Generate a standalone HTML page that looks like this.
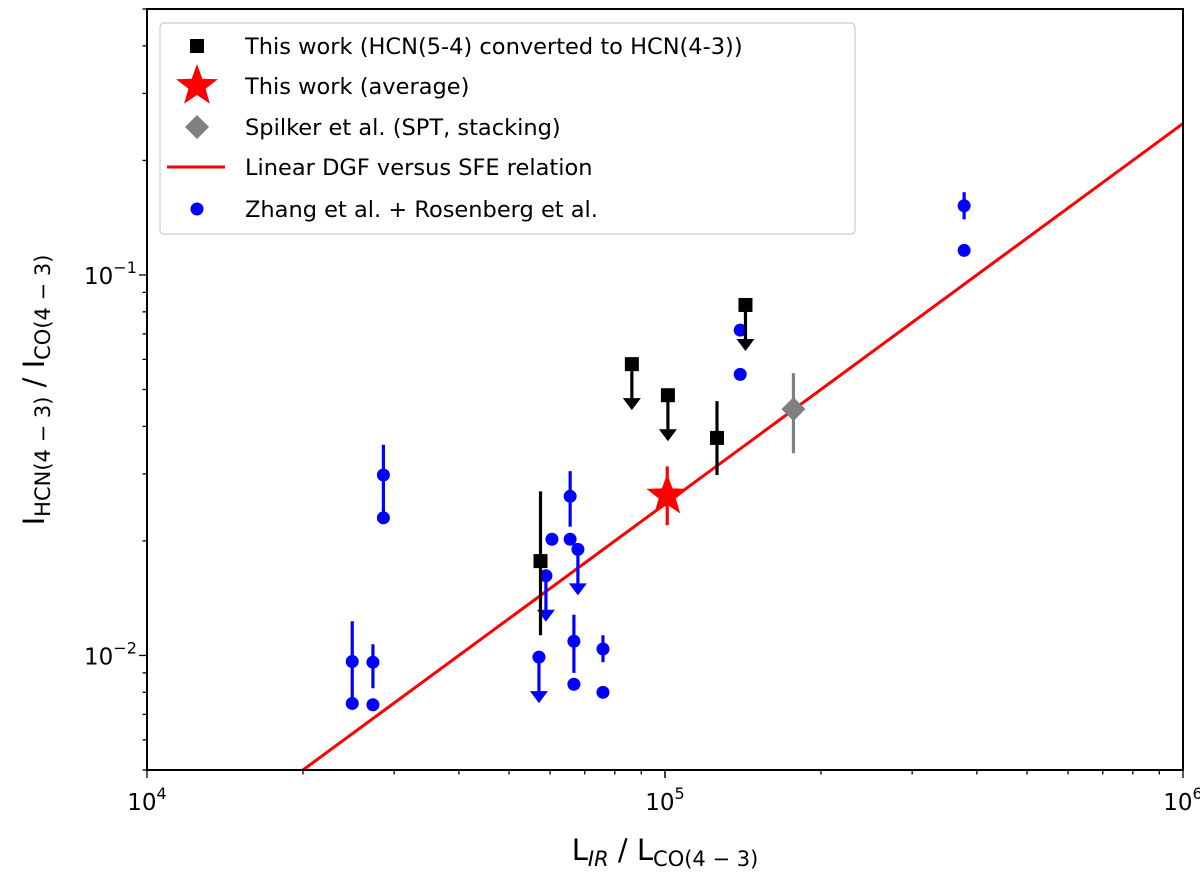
<!DOCTYPE html>
<html><head><meta charset="utf-8"><style>
html,body{margin:0;padding:0;background:#fff;}
svg{display:block;font-family:"DejaVu Sans","Liberation Sans",sans-serif;}
</style></head><body>
<svg id="chart" width="1200" height="880" viewBox="0 0 1200 880" xmlns="http://www.w3.org/2000/svg"></svg>
<script>
// ---- data ----
const blueX = [24900, 24900, 27300, 27300, 28600, 28600, 57100, 58900, 60500, 65600, 65600, 67900, 66700, 66700, 75900, 75900, 139700, 139700, 378000, 378000];
const blueY = [0.00964, 0.00748, 0.00960, 0.00742, 0.0298, 0.0230, 0.0099, 0.0162, 0.0202, 0.0262, 0.0202, 0.0190, 0.0109, 0.0084, 0.0104, 0.0080, 0.0716, 0.0548, 0.152, 0.116];
const blueErrLo = [0.00748, null, 0.0082, null, 0.0235, null, null, null, null, 0.0218, null, null, 0.0090, null, 0.0096, null, null, null, 0.140, null];
const blueErrHi = [0.0123, null, 0.0107, null, 0.0358, null, null, null, null, 0.0305, null, null, 0.0128, null, 0.0113, null, null, null, 0.165, null];
const blueUpper = [false, false, false, false, false, false, true, true, false, false, false, true, false, false, false, false, false, false, false, false];
const blackX = [57500, 86300, 101300, 126000, 143000];
const blackY = [0.0177, 0.0583, 0.0483, 0.0373, 0.0834];
const blackErrLo = [0.0113, null, null, 0.0298, null];
const blackErrHi = [0.0270, null, null, 0.0466, null];
const blackUpper = [false, true, true, false, true];
const starX = [101000], starY = [0.0263], starLo = [0.0220], starHi = [0.0314];
const diaX = [177000], diaY = [0.0444], diaLo = [0.0340], diaHi = [0.0552];
const lineX = [20000, 1000000], lineY = [0.005, 0.25];
const xTicks = [1e4, 1e5, 1e6], xTickLabels = ["4", "5", "6"];
const yTicks = [0.01, 0.1], yTickLabels = ["−2", "−1"];

// ---- axes ----
const L = 147, R = 1183, T = 9, B = 770;
const xmin = 4, xmax = 6, ymin = Math.log10(0.005), ymax = Math.log10(0.5);
const sx = v => L + (Math.log10(v) - xmin) / (xmax - xmin) * (R - L);
const sy = v => B - (Math.log10(v) - ymin) / (ymax - ymin) * (B - T);
const NS = "http://www.w3.org/2000/svg";
const svg = document.getElementById('chart');
function mk(tag, attrs, parent) {
  const e = document.createElementNS(NS, tag);
  for (const k in attrs) e.setAttribute(k, attrs[k]);
  (parent || svg).appendChild(e);
  return e;
}
const clip = mk('clipPath', {id: 'pc'});
mk('rect', {x: L, y: T, width: R - L, height: B - T}, clip);
const plot = mk('g', {'clip-path': 'url(#pc)'});



// ticks
for (let d = 4; d < 6; d++) for (let m = 1; m <= 10; m++) {
  const v = m * Math.pow(10, d); const x = sx(v); const major = (m === 1 || m === 10);
  const t = mk('line', {x1: x, x2: x, y1: B, y2: B + (major ? 8 : 4.5), stroke: '#000', 'stroke-width': 1.3});
  
  
}
for (let d = -3; d < 0; d++) for (let m = 1; m <= 9; m++) {
  const v = m * Math.pow(10, d); if (v < 0.005 - 1e-9 || v > 0.5 + 1e-9) continue;
  const y = sy(v); const major = (m === 1);
  const t = mk('line', {x1: L, x2: L - (major ? 8 : 4.5), y1: y, y2: y, stroke: '#000', 'stroke-width': 1.3});
  
  
}
xTicks.forEach((v, i) => {
  const t = mk('text', {x: sx(v), y: 810, 'text-anchor': 'middle', 'font-size': 23});
  t.innerHTML = '10<tspan dy="-11" font-size="16">' + xTickLabels[i] + '</tspan>';
  
  
});
yTicks.forEach((v, i) => {
  const t = mk('text', {x: 84, y: sy(v) + 9, 'text-anchor': 'start', 'font-size': 23});
  t.innerHTML = '10<tspan dy="-11" font-size="16">' + yTickLabels[i] + '</tspan>';
  
  
});

// red line
const rl = mk('line', {x1: sx(lineX[0]), y1: sy(lineY[0]), x2: sx(lineX[1]), y2: sy(lineY[1]), stroke: '#f00', 'stroke-width': 3}, plot);



function arrow(x, y, color, g) {
  mk('line', {x1: x, x2: x, y1: y, y2: y + 40, stroke: color, 'stroke-width': 3.2}, g);
  mk('polygon', {points: `${x - 9},${y + 34} ${x + 9},${y + 34} ${x},${y + 46}`, fill: color}, g);
}
// blue
blueX.forEach((v, i) => {
  const g = mk('g', {}, plot);
  
  
  const x = sx(v), y = sy(blueY[i]);
  if (blueErrLo[i] !== null) mk('line', {x1: x, x2: x, y1: sy(blueErrLo[i]), y2: sy(blueErrHi[i]), stroke: '#00f', 'stroke-width': 3.2}, g);
  if (blueUpper[i]) arrow(x, y, '#00f', g);
  mk('circle', {cx: x, cy: y, r: 6.5, fill: '#00f'}, g);
});
// black
blackX.forEach((v, i) => {
  const g = mk('g', {}, plot);
  
  
  const x = sx(v), y = sy(blackY[i]);
  if (blackErrLo[i] !== null) mk('line', {x1: x, x2: x, y1: sy(blackErrLo[i]), y2: sy(blackErrHi[i]), stroke: '#000', 'stroke-width': 3.2}, g);
  if (blackUpper[i]) arrow(x, y, '#000', g);
  mk('rect', {x: x - 7, y: y - 7, width: 14, height: 14, fill: '#000'}, g);
});
function starPts(cx, cy, ro, ri) {
  const p = [];
  for (let k = 0; k < 10; k++) { const a = -Math.PI / 2 + k * Math.PI / 5; const r = k % 2 ? ri : ro; p.push((cx + r * Math.cos(a)).toFixed(1) + ',' + (cy + r * Math.sin(a)).toFixed(1)); }
  return p.join(' ');
}
starX.forEach((v, i) => {
  const g = mk('g', {}, plot);
  
  
  const x = sx(v), y = sy(starY[i]);
  mk('line', {x1: x, x2: x, y1: sy(starLo[i]), y2: sy(starHi[i]), stroke: '#f00', 'stroke-width': 3.2}, g);
  mk('polygon', {points: starPts(x, y, 22, 9), fill: '#f00'}, g);
});
diaX.forEach((v, i) => {
  const g = mk('g', {}, plot);
  
  
  const x = sx(v), y = sy(diaY[i]);
  mk('line', {x1: x, x2: x, y1: sy(diaLo[i]), y2: sy(diaHi[i]), stroke: '#808080', 'stroke-width': 3.2}, g);
  mk('polygon', {points: `${x},${y - 12} ${x + 12},${y} ${x},${y + 12} ${x - 12},${y}`, fill: '#808080'}, g);
});

// frame
const fr = mk('rect', {x: L, y: T, width: R - L, height: B - T, fill: 'none', stroke: '#000', 'stroke-width': 2});



// legend
const lg = mk('g', {});


mk('rect', {x: 160, y: 23, width: 695, height: 211, rx: 4, fill: '#fff', 'fill-opacity': 0.85, stroke: '#ccc', 'stroke-width': 1.2}, lg);
const labels = ["This work (HCN(5-4) converted to HCN(4-3))", "This work (average)", "Spilker et al. (SPT, stacking)", "Linear DGF versus SFE relation", "Zhang et al. + Rosenberg et al."];
const ly = [46, 86, 127, 167, 209];
labels.forEach((s, i) => {
  const e = mk('g', {}, lg);
  
  
  const y = ly[i];
  if (i === 0) mk('rect', {x: 190, y: y - 7, width: 14, height: 14, fill: '#000'}, e);
  if (i === 1) mk('polygon', {points: starPts(197, y, 22, 9), fill: '#f00'}, e);
  if (i === 2) mk('polygon', {points: `197,${y - 12} 209,${y} 197,${y + 12} 185,${y}`, fill: '#808080'}, e);
  if (i === 3) mk('line', {x1: 167, x2: 225, y1: y, y2: y, stroke: '#f00', 'stroke-width': 3}, e);
  if (i === 4) mk('circle', {cx: 197, cy: y, r: 6.5, fill: '#00f'}, e);
  const t = mk('text', {x: 245, y: y + 8, 'font-size': 22.5, fill: '#000'}, e);
  t.textContent = s;
});

// axis titles
const xt = mk('text', {x: 665, y: 860, 'text-anchor': 'middle', 'font-size': 29});
xt.innerHTML = 'L<tspan font-size="21" dy="6" font-style="italic">IR</tspan><tspan dy="-6"> / L</tspan><tspan font-size="21" dy="6">CO(4 − 3)</tspan>';


const yt = mk('text', {x: 0, y: 0, 'text-anchor': 'middle', 'font-size': 29, transform: 'translate(44,390) rotate(-90)'});
yt.innerHTML = 'I<tspan font-size="21" dy="6">HCN(4 − 3)</tspan><tspan dy="-6"> / I</tspan><tspan font-size="21" dy="6">CO(4 − 3)</tspan>';


</script>
</body></html>
